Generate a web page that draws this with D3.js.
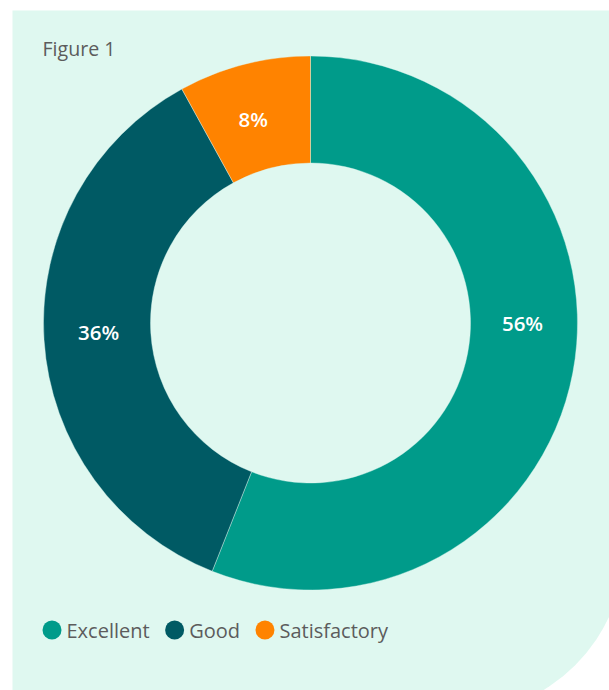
<!DOCTYPE html>
<html>
<head>
<meta charset="utf-8">
<script src="https://cdn.jsdelivr.net/npm/d3@7/dist/d3.min.js"></script>
<style>
  html, body { margin: 0; padding: 0; background: #ffffff; }
  svg { display: block; }
</style>
</head>
<body>
<svg id="chart" width="609" height="690"></svg>
<script>
// Survey ratings
const categories = ["Excellent", "Good", "Satisfactory"];
const shares = [56, 36, 8];
const valueLabels = ["56%", "36%", "8%"];
const colors = ["#009b8a", "#005a64", "#ff8300"];
const title = "Figure 1";

const W = 609, H = 690;
const panelFill = "#dff8f0";
const textGrey = "#5c5c5c";
const fontFamily = "'Open Sans', Lato, sans-serif";

const svg = d3.select("#chart");

// Background panel: square corners except a large rounded bottom-right corner
const px0 = 12.5, py0 = 10.5, px1 = 625, py1 = 715, cr = 170;
const panel = d3.path();
panel.moveTo(px0, py0);
panel.lineTo(px1, py0);
panel.lineTo(px1, py1 - cr);
panel.arcTo(px1, py1, px1 - cr, py1, cr);
panel.lineTo(px0, py1);
panel.closePath();
svg.append("path").attr("d", panel.toString()).attr("fill", panelFill);

svg.append("text")
  .attr("x", 42.5).attr("y", 55.5)
  .attr("font-family", fontFamily)
  .attr("font-size", 19.6)
  .attr("fill", textGrey)
  .text(title);

// Donut
const cx = 310.5, cy = 323, rOuter = 267, rInner = 160;
const pie = d3.pie().sort(null).value(d => d);
const arcs = pie(shares);
const arc = d3.arc().innerRadius(rInner).outerRadius(rOuter);

const g = svg.append("g").attr("transform", `translate(${cx},${cy})`);
g.selectAll("path.slice")
  .data(arcs)
  .join("path")
  .attr("class", "slice")
  .attr("d", arc)
  .attr("fill", (d, i) => colors[i])
  .attr("stroke", panelFill)
  .attr("stroke-width", 0.4);

// Label placement: mid-radius of the ring, angle nudged per slice (degrees)
const labelNudge = [-10.8, 1.2, -1.3];
const rLabel = (rInner + rOuter) / 2 - 1.5;
g.selectAll("text.value")
  .data(arcs)
  .join("text")
  .attr("class", "value")
  .each(function (d, i) {
    const a = (d.startAngle + d.endAngle) / 2 + labelNudge[i] * Math.PI / 180;
    d3.select(this)
      .attr("x", Math.sin(a) * rLabel)
      .attr("y", -Math.cos(a) * rLabel);
  })
  .attr("text-anchor", "middle")
  .attr("dominant-baseline", "central")
  .attr("font-family", fontFamily)
  .attr("font-weight", 600)
  .attr("font-size", 20.5)
  .attr("fill", "#ffffff")
  .text((d, i) => valueLabels[i]);

// Legend
const legendY = 630, dotR = 9.5, dotGap = 5, itemGap = 15.5;
let lx = 42.5;
const legend = svg.append("g");
categories.forEach((c, i) => {
  legend.append("circle")
    .attr("cx", lx + dotR).attr("cy", legendY).attr("r", dotR)
    .attr("fill", colors[i]);
  const t = legend.append("text")
    .attr("x", lx + 2 * dotR + dotGap)
    .attr("y", legendY)
    .attr("dominant-baseline", "central")
    .attr("font-family", fontFamily)
    .attr("font-size", 20)
    .attr("fill", textGrey)
    .text(c);
  lx += 2 * dotR + dotGap + t.node().getComputedTextLength() + itemGap;
});
</script>
</body>
</html>
